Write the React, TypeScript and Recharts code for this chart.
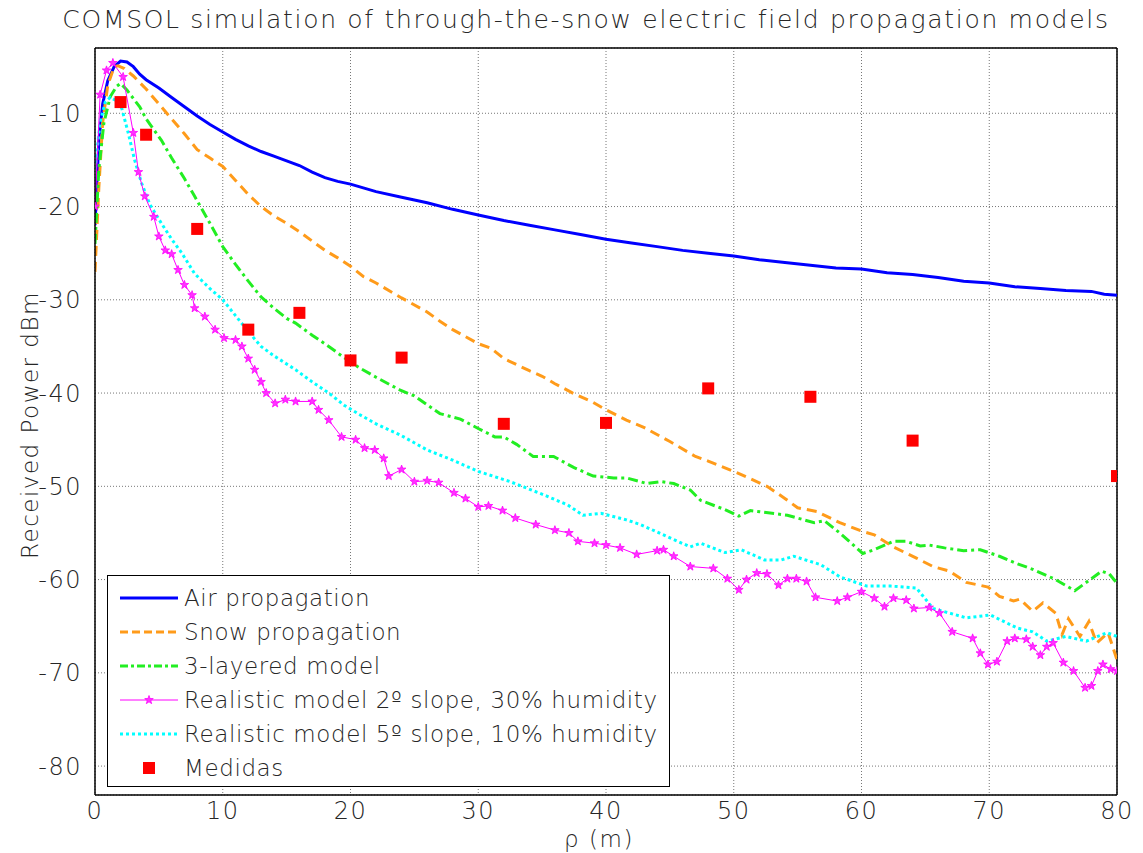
import React from "react";
import {
  ComposedChart,
  Line,
  Scatter,
  XAxis,
  YAxis,
  CartesianGrid,
  ReferenceLine,
} from "recharts";

// [rho (m), received power (dBm)]
const airPropagation: [number, number][] = [
  [0, -22], [0.3, -13], [0.6, -9], [1, -6.5], [1.5, -5], [2, -4.4], [2.5, -4.5], [3, -5],
  [3.5, -5.8], [4, -6.4], [5, -7.3], [6, -8.3], [7, -9.3], [8, -10.3], [9, -11.2], [10, -12],
  [11, -12.8], [12, -13.5], [13, -14.1], [14, -14.6], [15, -15.1], [16, -15.6], [17, -16.3],
  [18, -16.9], [19, -17.3], [20, -17.6], [21, -18], [22, -18.4], [24, -19], [26, -19.6],
  [28, -20.3], [30, -20.9], [32, -21.5], [34, -22], [36, -22.5], [38, -23], [40, -23.5],
  [42, -23.9], [44, -24.3], [46, -24.7], [48, -25], [50, -25.3], [52, -25.7], [54, -26],
  [56, -26.3], [58, -26.6], [60, -26.7], [62, -27.1], [64, -27.3], [66, -27.6], [68, -28],
  [70, -28.2], [72, -28.6], [74, -28.8], [76, -29], [78, -29.1], [79, -29.4], [80, -29.5],
];

const snowPropagation: [number, number][] = [
  [0, -27], [0.3, -18], [0.6, -11], [1, -7], [1.5, -5], [1.8, -4.9], [2.3, -5.2], [3, -6],
  [4, -7.4], [5, -9], [6, -10.6], [7, -12.2], [8, -13.9], [9, -14.8], [10, -15.7], [11, -17.2],
  [12, -18.7], [13, -20], [14, -21], [15, -21.8], [16, -22.7], [17, -23.7], [18, -24.7],
  [19, -25.5], [20, -26.4], [21, -27.5], [22, -28.2], [24, -29.8], [26, -31.3], [27, -32.3],
  [28, -33.2], [30, -34.7], [31, -35.2], [32, -36.3], [34, -37.6], [35, -38.2], [36, -39],
  [37.4, -40], [39, -41], [40, -41.8], [41.6, -42.9], [43, -43.7], [45, -45.2], [47, -46.8],
  [48, -47.3], [50, -48.4], [51, -49], [52.6, -50], [54, -51.3], [55, -52.3], [56.5, -52.7],
  [58.3, -53.9], [60, -54.8], [61, -55.2], [62.5, -56.5], [64.3, -57.7], [65.6, -58.6],
  [66.9, -59.1], [68.2, -60.3], [69.9, -60.8], [70.8, -61.8], [71.9, -62.3], [72.4, -62.1],
  [73.4, -63.4], [74.2, -62.5], [75.2, -63.6], [75.7, -65.9], [76.2, -64.2], [77.1, -66.1],
  [77.8, -64.5], [78.4, -66.8], [79.3, -65.7], [80, -68.6],
];

const threeLayered: [number, number][] = [
  [0, -24], [0.3, -16], [0.7, -11], [1.2, -8.2], [1.7, -7.1], [2, -6.8], [2.5, -7.5],
  [3.1, -8.6], [3.5, -9.3], [4, -10.6], [5.2, -12.9], [6, -14.8], [7, -17], [7.8, -18.9],
  [9, -21.8], [10, -24.3], [11, -26.2], [12, -28], [13, -29.7], [14, -30.9], [15, -32],
  [15.7, -32.5], [17, -33.8], [18.3, -35], [19.5, -36.2], [20.7, -37.3], [22, -38.3],
  [23.9, -39.7], [25, -40.3], [27, -42.2], [28.6, -42.8], [30, -43.8], [31.3, -44.7],
  [32, -44.7], [33, -45.5], [34.3, -46.8], [35.9, -46.8], [37.5, -48], [39, -48.9],
  [40.6, -49.1], [41.6, -49.1], [43.2, -49.7], [44.3, -49.5], [45.3, -49.7], [46.6, -50.4],
  [47.4, -51.5], [49.3, -52.5], [50.4, -53.2], [51.3, -52.6], [54.2, -53.1], [56.3, -53.9],
  [57.1, -53.7], [58.3, -55], [60.1, -57.2], [61, -56.8], [62.5, -55.9], [63.5, -55.9],
  [64.6, -56.4], [65.3, -56.3], [66.5, -56.6], [68, -56.9], [69.3, -56.8], [70.8, -57.5],
  [72, -58.2], [73.4, -58.9], [75.2, -60], [76.7, -61.2], [77.8, -60.1], [78.8, -59.1],
  [79.4, -59.4], [80, -60.4],
];

const realistic2deg: [number, number][] = [
  [0, -20], [0.4, -8], [0.9, -5.4], [1.4, -4.6], [2.2, -6.1], [3, -12.1], [3.4, -16.3],
  [3.9, -18.9], [4.6, -21.1], [5, -23.2], [5.5, -24.7], [6, -25.1], [6.5, -26.8], [7, -28.4],
  [7.6, -29.5], [7.8, -30.9], [8.6, -31.8], [9.4, -33.2], [10.1, -34.1], [11, -34.3],
  [11.5, -35], [12, -36.3], [12.5, -37.5], [13, -38.8], [13.4, -40], [14.1, -41.1],
  [14.9, -40.7], [15.7, -40.9], [17, -40.9], [17.5, -41.8], [18.3, -42.9], [19.3, -44.7],
  [20.4, -45], [21.1, -45.9], [21.9, -46.1], [22.6, -47], [23, -48.9], [24, -48.2],
  [25, -49.5], [26, -49.4], [26.9, -49.6], [28.1, -50.7], [29, -51.3], [30, -52.2],
  [30.8, -52.1], [31.9, -52.6], [32.9, -53.4], [34.5, -54.1], [36, -54.7], [37.1, -55],
  [37.8, -55.9], [39.1, -56.1], [40, -56.3], [41.1, -56.6], [42.4, -57.3], [44, -56.9],
  [44.5, -56.8], [45.3, -57.5], [46.6, -58.6], [48.4, -58.8], [49.5, -59.9], [50.4, -61.1],
  [51, -60], [51.8, -59.3], [52.6, -59.4], [53.5, -60.6], [54.2, -59.9], [54.9, -59.9],
  [55.7, -60.2], [56.4, -61.9], [58.1, -62.3], [58.9, -61.9], [60, -61.3], [61, -62],
  [61.8, -62.9], [62.5, -62], [63.5, -62.2], [64.1, -63.1], [65.3, -63], [66.1, -63.6],
  [67.1, -65.6], [68.7, -66.3], [69.3, -67.9], [69.9, -69.1], [70.6, -68.8], [71.4, -66.6],
  [72, -66.3], [72.9, -66.4], [73.4, -67.2], [74, -68.1], [74.5, -67.2], [75, -66.8],
  [75.8, -68.9], [76.6, -69.8], [77.5, -71.6], [78, -71.4], [78.5, -69.8], [78.9, -69.1],
  [79.5, -69.6], [80, -69.8],
];

const realistic5deg: [number, number][] = [
  [0, -16], [0.4, -11], [0.8, -8.8], [1.2, -8.3], [1.6, -8.6], [2.1, -9.5], [2.6, -12.1],
  [3.1, -15], [3.65, -17.5], [4.3, -19.8], [5.2, -21.8], [6, -23.5], [6.8, -25], [7.8, -27.2],
  [9, -28.8], [10, -30], [11, -31.7], [12, -33.4], [13, -35], [14, -36], [15.7, -37.5],
  [17, -38.8], [18.3, -40], [19.5, -41.3], [20.7, -42.3], [22, -43.3], [23.9, -44.5],
  [26, -46.1], [28, -47.2], [30, -48.4], [32.5, -49.5], [35.1, -50.9], [37, -52],
  [38.2, -53.1], [39.6, -52.9], [41.6, -53.6], [42.7, -54.1], [44.8, -55.4], [46.6, -56.5],
  [47.4, -56.1], [49.3, -57.1], [50.6, -56.8], [52.4, -57.9], [53.7, -57.9], [54.7, -57.5],
  [56.8, -58.4], [58.3, -59.7], [60.4, -60.7], [62.3, -60.7], [64.3, -60.9], [65.6, -63.1],
  [66.9, -63.6], [68.2, -64.1], [70.1, -63.8], [72.2, -65.2], [73.4, -65.6], [74.5, -66.6],
  [76, -66.1], [77.6, -66.6], [79.2, -65.7], [80, -66.1],
];

const medidas: [number, number][] = [
  [2, -8.8], [4, -12.3], [8, -22.4], [12, -33.2], [16, -31.4], [20, -36.5], [24, -36.2],
  [32, -43.3], [40, -43.2], [48, -39.5], [56, -40.4], [64, -45.1], [80, -48.9],
];

const xTicks = [0, 10, 20, 30, 40, 50, 60, 70, 80];
const yTicks = [-80, -70, -60, -50, -40, -30, -20, -10];

const FONT = "'DejaVu Sans', sans-serif";
const TEXT = "#262626";

const toPoints = (d: [number, number][]) => d.map(([x, y]) => ({ x, y }));

function starPath(cx: number, cy: number, r: number) {
  let d = "";
  for (let i = 0; i < 10; i++) {
    const rad = i % 2 === 0 ? r : r * 0.4;
    const a = -Math.PI / 2 + (i * Math.PI) / 5;
    d += (i === 0 ? "M" : "L") + (cx + rad * Math.cos(a)).toFixed(2) + "," + (cy + rad * Math.sin(a)).toFixed(2);
  }
  return d + "Z";
}

const StarDot = (props: any) => {
  const { cx, cy, index } = props;
  if (cx == null || cy == null) return <g key={index} />;
  return <path key={index} d={starPath(cx, cy, 4.5)} fill="#ff33ff" stroke="#ff00ff" strokeWidth={0.8} />;
};

const SquareShape = (props: any) => {
  const { cx, cy } = props;
  return <rect x={cx - 6} y={cy - 6} width={12} height={12} fill="#ff0000" />;
};

const legendItems = [
  { label: "Air propagation", color: "#0000ff", dash: undefined, width: 3, kind: "line" },
  { label: "Snow propagation", color: "#ff9b1a", dash: "8 4", width: 3, kind: "line" },
  { label: "3-layered model", color: "#22ee22", dash: "8 3 3 3", width: 3, kind: "line" },
  { label: "Realistic model 2º slope, 30% humidity", color: "#ff00ff", dash: undefined, width: 1, kind: "star" },
  { label: "Realistic model 5º slope, 10% humidity", color: "#00ffff", dash: "3 3", width: 3, kind: "line" },
  { label: "Medidas", color: "#ff0000", dash: undefined, width: 0, kind: "square" },
];

const tickStyle = { fontSize: 24, fill: TEXT, fontFamily: FONT, fontWeight: 200, letterSpacing: 1.5 };

export default function App() {
  return (
    <div style={{ position: "absolute", left: 0, top: 0, width: 1143, height: 853, background: "#fff", fontFamily: FONT }}>
      <div
        style={{
          position: "absolute",
          top: 5,
          left: 0,
          width: 1143,
          textAlign: "center",
          fontSize: 25,
          letterSpacing: 1.7,
          fontWeight: 200,
          color: TEXT,
          paddingLeft: 29,
          boxSizing: "border-box",
          whiteSpace: "nowrap",
        }}
      >
        COMSOL simulation of through-the-snow electric field propagation models
      </div>
      <ComposedChart
        width={1143}
        height={853}
        margin={{ top: 48, right: 26, bottom: 28, left: 35 }}
      >
        <CartesianGrid stroke="#777" strokeDasharray="1 2" />
        <XAxis
          type="number"
          dataKey="x"
          domain={[0, 80]}
          ticks={xTicks}
          allowDataOverflow
          height={30}
          tickSize={0}
          tickMargin={7}
          axisLine={{ stroke: "#000", strokeWidth: 1.5 }}
          tick={tickStyle}
        />
        <YAxis
          type="number"
          dataKey="y"
          domain={[-83.1, -3]}
          ticks={yTicks}
          allowDataOverflow
          width={60}
          tickSize={0}
          tickMargin={13}
          axisLine={{ stroke: "#000", strokeWidth: 1.5 }}
          tick={tickStyle}
        />
        <ReferenceLine x={80} stroke="#000" strokeWidth={1.5} />
        <ReferenceLine y={-3} stroke="#000" strokeWidth={1.5} />
        <Line
          data={toPoints(airPropagation)}
          dataKey="y"
          stroke="#0000ff"
          strokeWidth={3}
          dot={false}
          type="linear"
          isAnimationActive={false}
        />
        <Line
          data={toPoints(snowPropagation)}
          dataKey="y"
          stroke="#ff9b1a"
          strokeWidth={3}
          strokeDasharray="10 6"
          dot={false}
          type="linear"
          isAnimationActive={false}
        />
        <Line
          data={toPoints(threeLayered)}
          dataKey="y"
          stroke="#22ee22"
          strokeWidth={3}
          strokeDasharray="10 4 3 4"
          dot={false}
          type="linear"
          isAnimationActive={false}
        />
        <Line
          data={toPoints(realistic5deg)}
          dataKey="y"
          stroke="#00ffff"
          strokeWidth={3}
          strokeDasharray="3 3"
          dot={false}
          type="linear"
          isAnimationActive={false}
        />
        <Line
          data={toPoints(realistic2deg)}
          dataKey="y"
          stroke="#ff00ff"
          strokeWidth={1}
          dot={StarDot}
          type="linear"
          isAnimationActive={false}
        />
        <Scatter
          data={toPoints(medidas)}
          dataKey="y"
          shape={SquareShape}
          isAnimationActive={false}
        />
      </ComposedChart>
      <div
        style={{
          position: "absolute",
          left: 30,
          top: 425,
          transform: "translate(-50%, -50%) rotate(-90deg)",
          fontSize: 23,
          letterSpacing: 1.5,
          fontWeight: 200,
          color: TEXT,
          whiteSpace: "nowrap",
        }}
      >
        Received Power dBm
      </div>
      <div
        style={{
          position: "absolute",
          left: 0,
          width: 1143,
          top: 826,
          textAlign: "center",
          paddingLeft: 55,
          boxSizing: "border-box",
          fontSize: 23,
          lineHeight: "26px",
          letterSpacing: 1.5,
          fontWeight: 200,
          color: TEXT,
          whiteSpace: "nowrap",
        }}
      >
        ρ (m)
      </div>
      <div
        style={{
          position: "absolute",
          left: 107,
          top: 575,
          width: 563,
          height: 212,
          border: "1.5px solid #000",
          background: "#fff",
          boxSizing: "border-box",
          paddingTop: 5,
        }}
      >
        {legendItems.map((item) => (
          <div key={item.label} style={{ display: "flex", alignItems: "center", height: 34 }}>
            <svg width={76} height={20} style={{ flex: "none" }}>
              {item.kind !== "square" && (
                <line
                  x1={12}
                  x2={70}
                  y1={10}
                  y2={10}
                  stroke={item.color}
                  strokeWidth={item.width}
                  strokeDasharray={item.dash}
                />
              )}
              {item.kind === "star" && (
                <path d={starPath(41, 10, 4.5)} fill="#ff33ff" stroke="#ff00ff" strokeWidth={0.8} />
              )}
              {item.kind === "square" && <rect x={35} y={4} width={12} height={12} fill="#ff0000" />}
            </svg>
            <span style={{ fontSize: 23, letterSpacing: 0.6, fontWeight: 200, color: TEXT, whiteSpace: "nowrap" }}>
              {item.label}
            </span>
          </div>
        ))}
      </div>
    </div>
  );
}
